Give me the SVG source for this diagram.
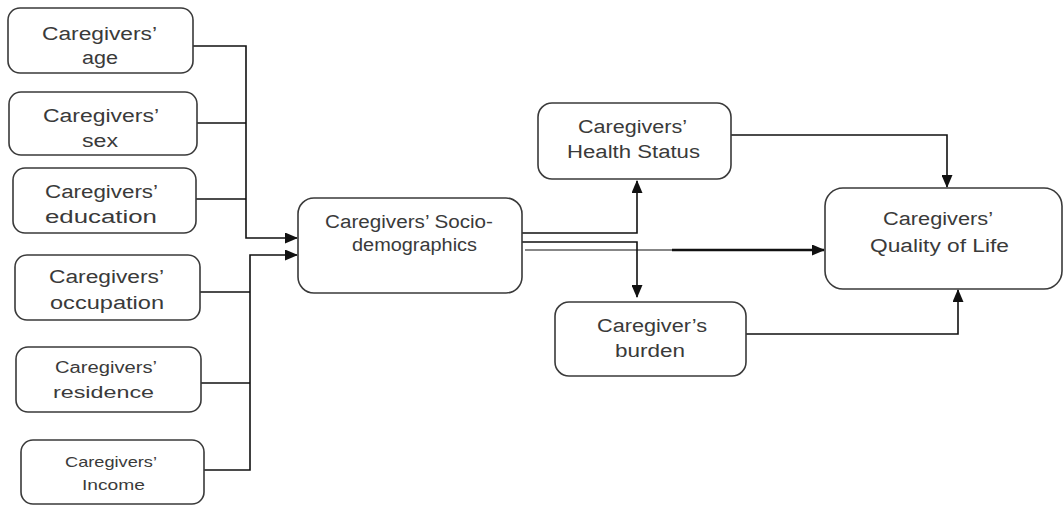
<svg xmlns="http://www.w3.org/2000/svg" width="1064" height="505" viewBox="0 0 1064 505">
<style>
.box{fill:#fff;stroke:#3a3a3a;stroke-width:1.6}
.t{font-family:"Liberation Sans",Arial,sans-serif;font-size:18px;fill:#3a3a3a}
.s{font-size:16px}
.xs{font-size:15px}
.c{fill:none;stroke:#111;stroke-width:1.6}
.thick{stroke-width:2.6}
</style>
<defs>
<marker id="ah" markerUnits="userSpaceOnUse" markerWidth="13" markerHeight="11" refX="12" refY="5.5" orient="auto">
<path d="M0,0 L13,5.5 L0,11 z" fill="#111"/>
</marker>
</defs>
<rect width="1064" height="505" fill="#fff"/>
<g id="connectors">
<path class="c" d="M193,46 H246 V238 H297" marker-end="url(#ah)"/>
<path class="c" d="M197,123 H246"/>
<path class="c" d="M196,199 H246"/>
<path class="c" d="M204,470 H250 V255 H297" marker-end="url(#ah)"/>
<path class="c" d="M200,292 H250"/>
<path class="c" d="M201,383 H250"/>
<path class="c" d="M522,233 H637 V181" marker-end="url(#ah)"/>
<path class="c" d="M522,242 H637 V297" marker-end="url(#ah)"/>
<path class="c" style="stroke-width:1.2" d="M525,250 H672"/>
<path class="c thick" d="M672,250 H824" marker-end="url(#ah)"/>
<path class="c" d="M731,135 H947 V187" marker-end="url(#ah)"/>
<path class="c" d="M746,334 H958 V290" marker-end="url(#ah)"/>
</g>
<g id="age">
<rect class="box" x="8" y="8" width="185" height="65" rx="12"/>
<text class="t" x="42" y="40" textLength="115" lengthAdjust="spacingAndGlyphs">Caregivers’</text>
<text class="t" x="82" y="64" textLength="36" lengthAdjust="spacingAndGlyphs">age</text>
</g>
<g id="sex">
<rect class="box" x="9" y="92" width="188" height="63" rx="12"/>
<text class="t" x="43" y="122" textLength="116" lengthAdjust="spacingAndGlyphs">Caregivers’</text>
<text class="t" x="82" y="147" textLength="36" lengthAdjust="spacingAndGlyphs">sex</text>
</g>
<g id="education">
<rect class="box" x="13" y="168" width="183" height="65" rx="12"/>
<text class="t" x="45" y="198" textLength="113" lengthAdjust="spacingAndGlyphs">Caregivers’</text>
<text class="t" x="45" y="223" textLength="112" lengthAdjust="spacingAndGlyphs">education</text>
</g>
<g id="occupation">
<rect class="box" x="15" y="255" width="185" height="65" rx="12"/>
<text class="t" x="49" y="283" textLength="115" lengthAdjust="spacingAndGlyphs">Caregivers’</text>
<text class="t" x="50" y="309" textLength="114" lengthAdjust="spacingAndGlyphs">occupation</text>
</g>
<g id="residence">
<rect class="box" x="16" y="347" width="185" height="65" rx="12"/>
<text class="t s" x="55" y="373" textLength="102" lengthAdjust="spacingAndGlyphs">Caregivers’</text>
<text class="t s" x="53" y="398" textLength="101" lengthAdjust="spacingAndGlyphs">residence</text>
</g>
<g id="income">
<rect class="box" x="21" y="440" width="183" height="64" rx="12"/>
<text class="t xs" x="65" y="467" textLength="92" lengthAdjust="spacingAndGlyphs">Caregivers’</text>
<text class="t xs" x="82" y="490" textLength="63" lengthAdjust="spacingAndGlyphs">Income</text>
</g>
<g id="socio">
<rect class="box" x="298" y="198" width="224" height="95" rx="16"/>
<text class="t" x="325" y="228" textLength="168" lengthAdjust="spacingAndGlyphs">Caregivers’ Socio-</text>
<text class="t" x="352" y="251" textLength="125" lengthAdjust="spacingAndGlyphs">demographics</text>
</g>
<g id="health">
<rect class="box" x="538" y="103" width="193" height="76" rx="14"/>
<text class="t" x="578" y="133" textLength="109" lengthAdjust="spacingAndGlyphs">Caregivers’</text>
<text class="t" x="567" y="158" textLength="133" lengthAdjust="spacingAndGlyphs">Health Status</text>
</g>
<g id="burden">
<rect class="box" x="555" y="302" width="191" height="74" rx="14"/>
<text class="t" x="597" y="332" textLength="110" lengthAdjust="spacingAndGlyphs">Caregiver’s</text>
<text class="t" x="615" y="357" textLength="70" lengthAdjust="spacingAndGlyphs">burden</text>
</g>
<g id="qol">
<rect class="box" x="825" y="188" width="237" height="101" rx="18"/>
<text class="t" x="883" y="225" textLength="110" lengthAdjust="spacingAndGlyphs">Caregivers’</text>
<text class="t" x="870" y="252" textLength="139" lengthAdjust="spacingAndGlyphs">Quality of Life</text>
</g>
</svg>
